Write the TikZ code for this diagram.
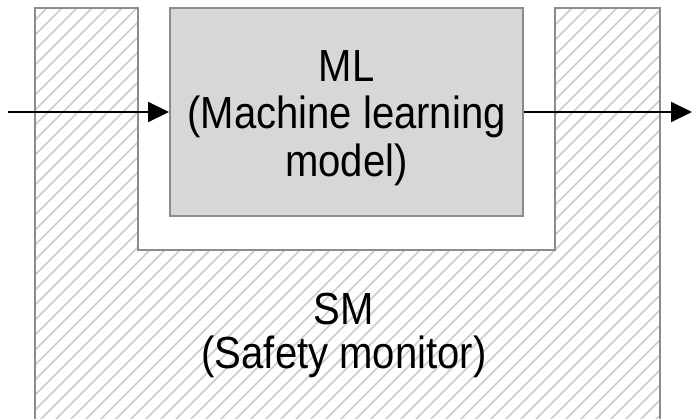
\documentclass[tikz,border=0pt]{standalone}
\usepackage{fontspec}
\setmainfont[FakeStretch=0.89]{Liberation Sans}
\usetikzlibrary{arrows.meta}
\definecolor{edgegray}{HTML}{8C8C8C}
\definecolor{hatchgray}{HTML}{CCCCCC}
\definecolor{boxfill}{HTML}{D7D7D7}
\tikzset{
  mlbox/.style={draw=edgegray, line width=2pt, fill=boxfill,
    minimum width=353pt, minimum height=208pt, inner sep=0pt},
  mltext/.style={align=center, inner sep=0pt, font=\fontsize{45}{47.5}\selectfont},
  smlabel/.style={align=center, inner sep=0pt, font=\fontsize{45}{44}\selectfont},
  flow/.style={line width=2pt, -{Triangle[length=21pt,width=20pt]}},
  hatchline/.style={hatchgray, line width=1.6pt}
}
\begin{document}
\begin{tikzpicture}[x=1pt,y=-1pt]
  \useasboundingbox (0,0) rectangle (692,418);
  % safety monitor: U-shaped hatched region around the model
  \def\smoutline{(35,8) -- (138,8) -- (138,250) -- (555,250) -- (555,8) -- (660,8) -- (660,430) -- (35,430) -- cycle}
  \fill[white] \smoutline;
  \begin{scope}
    \clip \smoutline;
    \foreach \k in {-30,...,50} {
      \draw[hatchline] (\k*15,430) -- ++(440,-440);
    }
  \end{scope}
  \draw[edgegray, line width=2pt] \smoutline;
  \node[smlabel] (sm) at (344,335.5) {SM\\(Safety monitor)};
  % machine learning model
  \node[mlbox] (ml) at (346.5,112) {};
  \node[mltext] (mltxt) at (346.5,118) {ML\\(Machine learning\\model)};
  % data flow through the model
  \coordinate (src) at (8,112);
  \coordinate (dst) at (692,112);
  \draw[flow] (src) -- (ml.west);
  \draw[flow] (ml.east) -- (dst);
\end{tikzpicture}
\end{document}
